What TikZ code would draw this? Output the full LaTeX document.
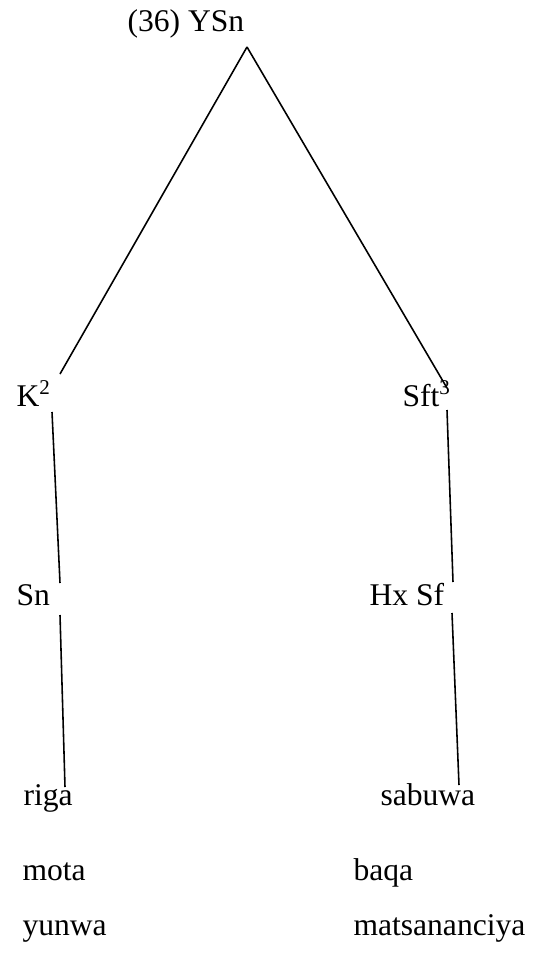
\documentclass[tikz,border=0pt]{standalone}
\usepackage{fontspec}
\setmainfont{Liberation Serif}
\usepackage{tikz}

\begin{document}
\begin{tikzpicture}[x=0.38pt,y=-0.38pt,font=\fontsize{12}{14}\selectfont,
  word/.style={anchor=base west,inner sep=0pt},
  branch/.style={line width=0.6pt}]

\useasboundingbox (0,0) rectangle (548,962);

\node[word] (title) at (127,31) {(36) YSn};
\coordinate (apex) at ([shift={(120,16)}]title.base west);

\node[word] (k) at (16,406) {K\textsuperscript{2}};
\node[word] (sft) at (402,406) {Sft\textsuperscript{3}};
\node[word] (sn) at (16,605) {Sn};
\node[word] (hxsf) at (369,605) {Hx Sf};

\node[word] (riga) at (23,805) {riga};
\node[word] (mota) at (22,880) {mota};
\node[word] (yunwa) at (22,935) {yunwa};
\node[word] (sabuwa) at (380,805) {sabuwa};
\node[word] (baqa) at (353,880) {baqa};
\node[word] (matsa) at (353,935) {matsananciya};

\draw[branch] (apex) -- ([shift={(44,-32)}]k.base west);
\draw[branch] (apex) -- ([shift={(45,-18)}]sft.base west);

\draw[branch] ([shift={(36,6)}]k.base west) -- ([shift={(44,-22)}]sn.base west);
\draw[branch] ([shift={(44,10)}]sn.base west) -- ([shift={(42,-18)}]riga.base west);

\draw[branch] ([shift={(45,4)}]sft.base west) -- ([shift={(84,-23)}]hxsf.base west);
\draw[branch] ([shift={(83,8)}]hxsf.base west) -- ([shift={(79,-20)}]sabuwa.base west);

\end{tikzpicture}
\end{document}
